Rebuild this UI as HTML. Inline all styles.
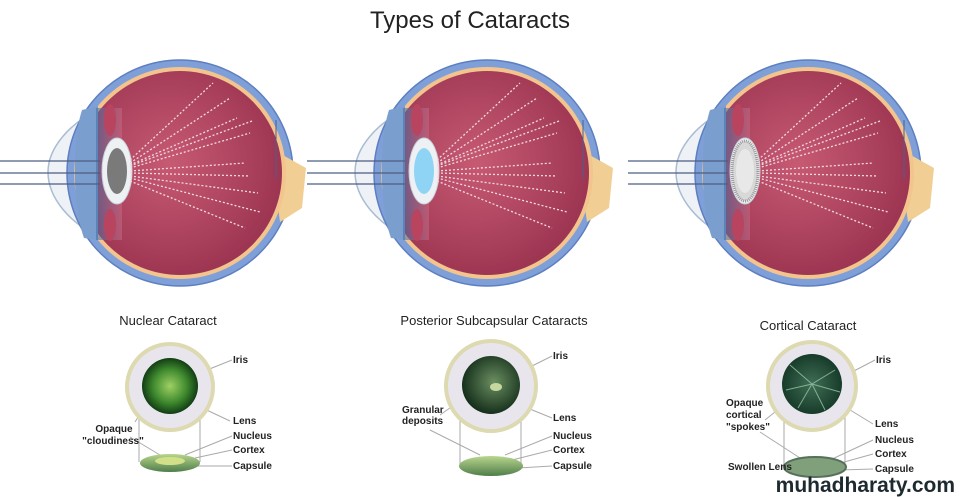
<!DOCTYPE html>
<html><head><meta charset="utf-8"><style>
html,body{margin:0;padding:0;background:#fff;}
svg{display:block;}
text{font-family:"Liberation Sans",Arial,sans-serif;}
</style></head><body>
<svg width="960" height="497" viewBox="0 0 960 497" xmlns="http://www.w3.org/2000/svg">
<defs>
<radialGradient id="red" cx="0.45" cy="0.45" r="0.6">
<stop offset="0" stop-color="#c75a73"/><stop offset="1" stop-color="#9a3350"/></radialGradient>
<linearGradient id="cil" x1="0" x2="1"><stop offset="0" stop-color="#3d6fa6"/><stop offset="1" stop-color="#c86a82"/></linearGradient>
<radialGradient id="g1" cx="0.5" cy="0.5" r="0.5"><stop offset="0" stop-color="#9ed064"/><stop offset="0.6" stop-color="#3f8a2e"/><stop offset="1" stop-color="#123d14"/></radialGradient>
<radialGradient id="g2" cx="0.55" cy="0.45" r="0.55"><stop offset="0" stop-color="#6a8f60"/><stop offset="1" stop-color="#16301c"/></radialGradient>
<radialGradient id="g3" cx="0.5" cy="0.5" r="0.5"><stop offset="0" stop-color="#406e55"/><stop offset="1" stop-color="#173c2a"/></radialGradient>
<linearGradient id="lensg" x1="0" y1="0" x2="0" y2="1"><stop offset="0" stop-color="#b9d68d"/><stop offset="1" stop-color="#4f7e4a"/></linearGradient>
<g id="eye">
<path d="M102,108 C70,122 48,148 48,172 C48,198 70,224 102,238 Z" fill="#eef2f6" stroke="#a9bcd2" stroke-width="1.5"/>
<circle cx="180" cy="173" r="113" fill="#7f9fd8" stroke="#5d7fc0" stroke-width="1.5"/>
<path d="M270,148 L306,168 L302,208 L280,222 Z" fill="#f1cf94"/>
<circle cx="180" cy="173" r="106" fill="#f3c48e"/>
<circle cx="180" cy="173" r="102" fill="url(#red)"/>
<path d="M82,110 C72,140 72,205 84,238 L98,240 L98,106 Z" fill="#7a9fcf"/>
<rect x="96" y="108" width="26" height="132" fill="url(#cil)" opacity="0.55"/>
<ellipse cx="110" cy="120" rx="6" ry="16" fill="#b8445f"/>
<ellipse cx="110" cy="225" rx="6" ry="16" fill="#b8445f"/>
<ellipse cx="117" cy="171" rx="15" ry="33" fill="#eef1f4" stroke="#c8d0d8"/>
<g stroke="#f3d9e0" stroke-width="1.3" stroke-dasharray="2,2" fill="none">
<path d="M130,160 L213,83 M130,163 L230,98 M130,165 L237,118 M130,166 L252,121 M130,168 L250,133 M130,171 L245,163 M130,173 L250,176 M130,176 L258,193 M130,178 L260,212 M130,181 L245,228"/>
</g>
<line x1="276" y1="120" x2="276" y2="178" stroke="#4a5f8a" stroke-width="1"/>
</g>
</defs>
<text x="470" y="28" font-size="24" text-anchor="middle" fill="#222">Types of Cataracts</text>

<use href="#eye"/>
<ellipse cx="117" cy="171" rx="10" ry="23" fill="#7a7a7a"/>
<g stroke="#4d5d80" stroke-width="1.3"><line x1="0" y1="161" x2="100" y2="161"/><line x1="0" y1="173" x2="100" y2="173"/><line x1="0" y1="184" x2="100" y2="184"/></g>

<use href="#eye" transform="translate(307,0)"/>
<ellipse cx="424" cy="171" rx="10" ry="23" fill="#8fd3f5"/>
<g stroke="#4d5d80" stroke-width="1.3"><line x1="307" y1="161" x2="405" y2="161"/><line x1="307" y1="173" x2="405" y2="173"/><line x1="307" y1="184" x2="405" y2="184"/></g>

<use href="#eye" transform="translate(628,0)"/>
<ellipse cx="745" cy="171" rx="13" ry="30" fill="#d8d8d8" stroke="#9a9a9a" stroke-dasharray="1,1" stroke-width="3"/>
<ellipse cx="745" cy="171" rx="9" ry="22" fill="#e8e8e8"/>
<g stroke="#4d5d80" stroke-width="1.3"><line x1="628" y1="161" x2="728" y2="161"/><line x1="628" y1="173" x2="728" y2="173"/><line x1="628" y1="184" x2="728" y2="184"/></g>

<g font-size="13" fill="#222" text-anchor="middle">
<text x="168" y="325">Nuclear Cataract</text>
<text x="494" y="325">Posterior Subcapsular Cataracts</text>
<text x="808" y="330">Cortical Cataract</text>
</g>

<g stroke="#aaa" stroke-width="1" fill="none">
<path d="M139,390 V462 M200,390 V462 M207,370 L232,360 M196,405 L230,421 M164,375 L135,422 M130,437 L160,455 M185,455 L232,436 M195,458 L232,450 M198,466 L232,466"/>
<path d="M460,390 V466 M521,390 V466 M528,368 L552,356 M515,403 L552,418 M495,376 L440,415 M430,430 L480,455 M505,455 L552,436 M512,460 L552,450 M518,468 L552,466"/>
<path d="M784,390 V470 M845,390 V470 M852,372 L875,360 M842,405 L873,424 M790,400 L765,420 M760,432 L800,458 M830,460 L873,440 M837,464 L873,454 M840,470 L873,469"/>
</g>
<circle cx="170" cy="387" r="43" fill="#e8e6ec" stroke="#ddd9b0" stroke-width="4"/>
<circle cx="170" cy="386" r="28" fill="url(#g1)"/>
<ellipse cx="170" cy="463" rx="30" ry="9" fill="url(#lensg)"/>
<ellipse cx="170" cy="461" rx="15" ry="4" fill="#d2e08a"/>

<circle cx="491" cy="386" r="45" fill="#e8e6ec" stroke="#ddd9b0" stroke-width="4"/>
<circle cx="491" cy="385" r="29" fill="url(#g2)"/>
<ellipse cx="496" cy="387" rx="6" ry="4" fill="#c6d8a0"/>
<ellipse cx="491" cy="466" rx="32" ry="10" fill="url(#lensg)"/>

<circle cx="812" cy="386" r="44" fill="#e8e6ec" stroke="#ddd9b0" stroke-width="4"/>
<circle cx="812" cy="384" r="30" fill="url(#g3)"/>
<g stroke="#9bc4a8" stroke-width="1" opacity="0.8"><path d="M812,384 L790,365 M812,384 L835,370 M812,384 L840,392 M812,384 L798,408 M812,384 L825,410 M812,384 L786,390"/></g>
<ellipse cx="815" cy="467" rx="31" ry="10" fill="#7fa07a" stroke="#56705a" stroke-width="2"/>

<g font-size="10" font-weight="bold" fill="#222">
<text x="233" y="363">Iris</text><text x="233" y="424">Lens</text><text x="233" y="439">Nucleus</text><text x="233" y="453">Cortex</text><text x="233" y="469">Capsule</text>
<text x="114" y="432" text-anchor="middle">Opaque</text><text x="113" y="444" text-anchor="middle">"cloudiness"</text>
<text x="553" y="359">Iris</text><text x="553" y="421">Lens</text><text x="553" y="439">Nucleus</text><text x="553" y="453">Cortex</text><text x="553" y="469">Capsule</text>
<text x="402" y="413">Granular</text><text x="402" y="424">deposits</text>
<text x="876" y="363">Iris</text><text x="875" y="427">Lens</text><text x="875" y="443">Nucleus</text><text x="875" y="457">Cortex</text><text x="875" y="472">Capsule</text>
<text x="726" y="406">Opaque</text><text x="726" y="418">cortical</text><text x="726" y="430">"spokes"</text>
<text x="728" y="470">Swollen Lens</text>
</g>
<text x="955" y="492" font-size="21" font-weight="bold" text-anchor="end" fill="#1d2a30" font-family="DejaVu Sans, sans-serif">muhadharaty.com</text>
</svg>
</body></html>
